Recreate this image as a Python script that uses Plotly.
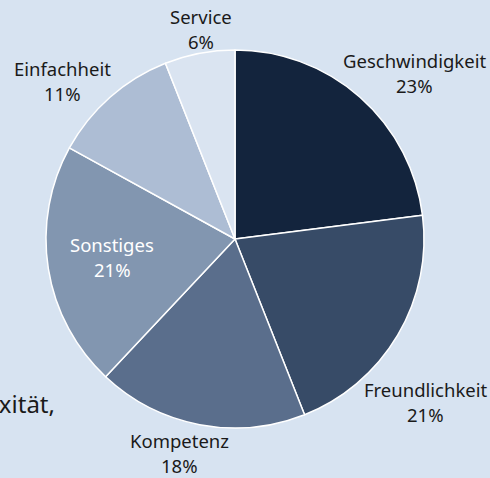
import plotly.graph_objects as go

kategorien = ["Geschwindigkeit", "Freundlichkeit", "Kompetenz", "Sonstiges", "Einfachheit", "Service"]
anteile = [23, 21, 18, 21, 11, 6]
farben = ["#13243d", "#374b67", "#5a6e8c", "#8296b0", "#adbdd4", "#dae4f1"]

# Beschriftungspositionen (Pixel: Mitte x, Mitte erste Zeile y)
label_pos = [(414, 60), (425, 389), (179, 440), (112, 244), (63, 68), (201, 17)]
label_farbe = ["#1a1a1a", "#1a1a1a", "#1a1a1a", "white", "#1a1a1a", "#1a1a1a"]
zeilenabstand = 25

bg = "#d7e3f1"
W, H = 490, 478
cx, cy, r = 235, 239, 189

fig = go.Figure(go.Pie(
    labels=kategorien,
    values=anteile,
    sort=False,
    direction="clockwise",
    rotation=0,
    marker=dict(colors=farben, line=dict(color="white", width=1.5)),
    textinfo="none",
    showlegend=False,
    hoverinfo="label+percent",
    domain=dict(x=[(cx - r) / W, (cx + r) / W],
                y=[1 - (cy + r) / H, 1 - (cy - r) / H]),
    automargin=False,
))

summe = sum(anteile)
for name, wert, (px_, py_), col in zip(kategorien, anteile, label_pos, label_farbe):
    zeilen = [name, f"{round(wert / summe * 100)}%"]
    for i, t in enumerate(zeilen):
        fig.add_annotation(
            text=t, xref="paper", yref="paper",
            x=px_ / W, y=1 - (py_ + i * zeilenabstand) / H,
            xanchor="center", yanchor="middle", showarrow=False,
            font=dict(family="Noto Sans", size=18.5, color=col),
        )

# abgeschnittener Text links (aus der Folie)
fig.add_annotation(
    text="Komplexität,", xref="paper", yref="paper",
    x=57 / W, y=1 - 403 / H, xanchor="right", yanchor="middle",
    showarrow=False, font=dict(family="Noto Sans", size=24, color="#1a1a1a"),
)

fig.update_layout(
    width=W, height=H,
    margin=dict(l=0, r=0, t=0, b=0),
    paper_bgcolor=bg,
    plot_bgcolor=bg,
)

fig.write_html("out.html", config={"displayModeBar": False},
               post_script="document.body.style.margin='0';")
